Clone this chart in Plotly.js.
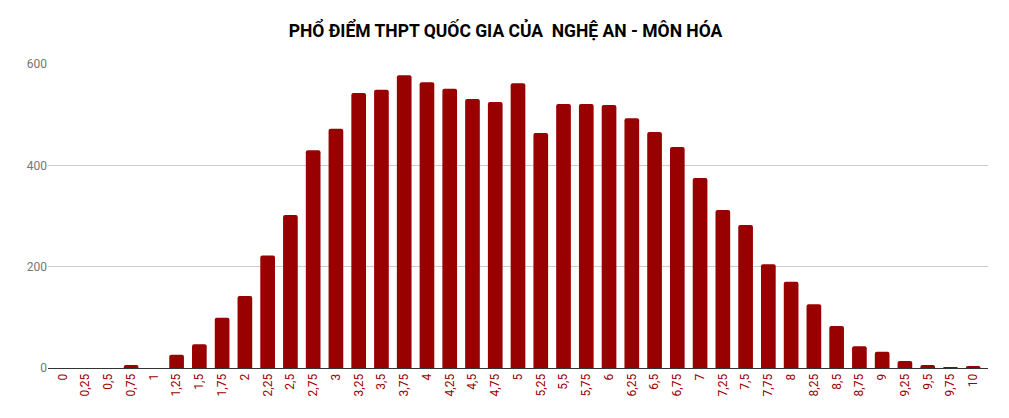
<!DOCTYPE html>
<html>
<head>
<meta charset="utf-8">
<script src="https://cdn.plot.ly/plotly-3.0.1.min.js"></script>
<style>
  body { margin: 0; background: #fff; }
  #chart { width: 1009px; height: 418px; }
</style>
</head>
<body>
<div id="chart"></div>
<script>
// điểm (thang 0 - 10, bước 0,25)
var diem = ['0', '0,25', '0,5', '0,75', '1', '1,25', '1,5', '1,75', '2', '2,25',
  '2,5', '2,75', '3', '3,25', '3,5', '3,75', '4', '4,25', '4,5', '4,75',
  '5', '5,25', '5,5', '5,75', '6', '6,25', '6,5', '6,75', '7', '7,25',
  '7,5', '7,75', '8', '8,25', '8,5', '8,75', '9', '9,25', '9,5', '9,75', '10'];

// số thí sinh
var soLuong = [0, 0, 0, 6, 0, 26, 47, 99, 142, 222,
  302, 430, 472, 543, 549, 578, 564, 551, 531, 525,
  562, 464, 521, 521, 519, 493, 466, 436, 375, 312,
  282, 205, 170, 126, 83, 43, 32, 14, 6, 2, 4];

var yTicks = [0, 200, 400, 600];

var trace = {
  x: diem,
  y: soLuong,
  type: 'bar',
  marker: { color: '#990000', cornerradius: 2 },
  hoverinfo: 'x+y'
};

var layout = {
  width: 1009,
  height: 418,
  margin: { l: 48, r: 21, t: 64, b: 50 },
  paper_bgcolor: '#fff',
  plot_bgcolor: '#fff',
  bargap: 0.355,
  showlegend: false,
  font: { family: 'Roboto, Arial, sans-serif' },
  title: {
    text: '<b>PHỔ ĐIỂM THPT QUỐC GIA CỦA  NGHỆ AN - MÔN HÓA</b>',
    font: { family: 'Roboto, Arial, sans-serif', size: 17.5, color: '#000' },
    x: 0.501,
    xanchor: 'center',
    y: 0.925,
    yanchor: 'middle'
  },
  xaxis: {
    type: 'category',
    range: [-0.65, 40.65],
    tickangle: -90,
    tickfont: { size: 12, color: '#990000' },
    showgrid: false,
    showline: true,
    linecolor: '#333',
    linewidth: 1,
    ticks: ''
  },
  yaxis: {
    range: [0, 600],
    tickvals: yTicks,
    ticktext: yTicks.map(String),
    tickfont: { size: 12, color: '#757575' },
    gridcolor: '#cccccc',
    zeroline: false,
    showline: false,
    ticks: ''
  }
};

Plotly.newPlot('chart', [trace], layout, { displayModeBar: false, staticPlot: true });
</script>
</body>
</html>
